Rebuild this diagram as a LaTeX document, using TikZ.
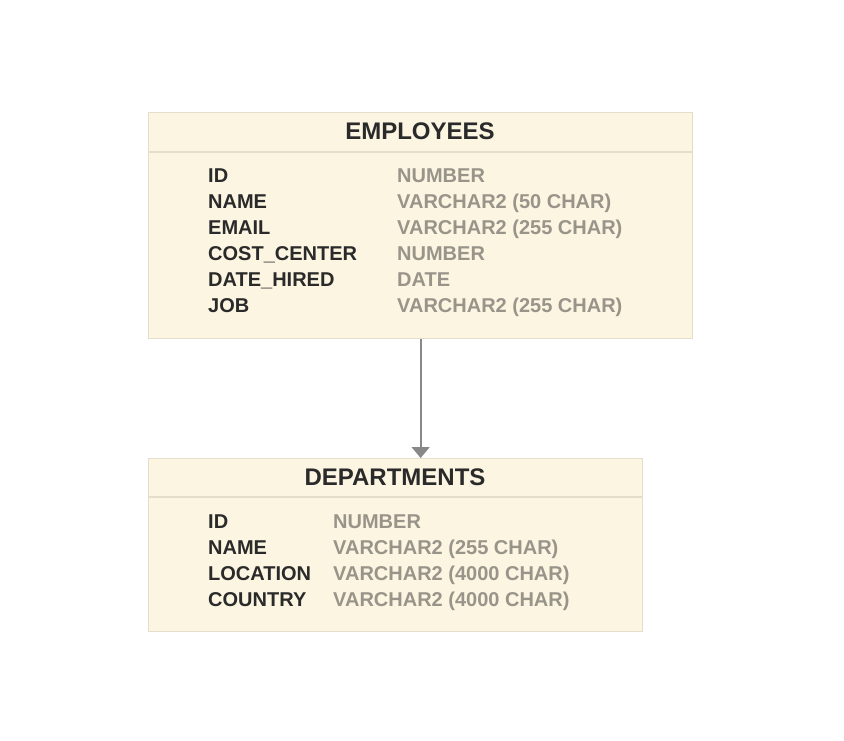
\documentclass[tikz,border=0pt]{standalone}
\usepackage{fontspec}
\setmainfont{Liberation Sans}
\usetikzlibrary{arrows.meta}
\definecolor{cream}{HTML}{FCF5E1}
\definecolor{edge}{HTML}{E4DECB}
\definecolor{namec}{HTML}{2A2A2A}
\definecolor{typec}{HTML}{98948A}
\definecolor{linec}{HTML}{888888}
\tikzset{
  tbl/.style={draw=edge, fill=cream, line width=1.3pt, inner sep=0pt, anchor=north west},
  sep/.style={draw=edge, line width=1.3pt},
  title/.style={font=\bfseries\fontsize{24}{28}\selectfont, text=namec, inner sep=0pt, text height=17.2pt, text depth=0pt},
  fname/.style={font=\bfseries\fontsize{20}{24}\selectfont, text=namec, inner sep=0pt, anchor=west, text height=14.3pt, text depth=0pt},
  ftype/.style={font=\bfseries\fontsize{20}{24}\selectfont, text=typec, inner sep=0pt, anchor=west, text height=14.3pt, text depth=0pt},
  conn/.style={draw=linec, line width=1.8pt, -{Triangle[width=18pt,length=11pt]}}
}
\begin{document}
\begin{tikzpicture}[x=1pt,y=-1pt]
\useasboundingbox (0,0) rectangle (844,740);
% EMPLOYEES
\node[tbl, minimum width=544pt, minimum height=226pt] (emp) at (148,112) {};
\draw[sep] (148,152) -- (692,152);
\node[title] (empt) at (420,131) {EMPLOYEES};
\node[fname] (e1) at (208,175) {ID};
\node[fname] (e2) at (208,201) {NAME};
\node[fname] (e3) at (208,227) {EMAIL};
\node[fname] (e4) at (208,253) {COST\_CENTER};
\node[fname] (e5) at (208,279) {DATE\_HIRED};
\node[fname] (e6) at (208,305) {JOB};
\node[ftype] (t1) at (397,175) {NUMBER};
\node[ftype] (t2) at (397,201) {VARCHAR2 (50 CHAR)};
\node[ftype] (t3) at (397,227) {VARCHAR2 (255 CHAR)};
\node[ftype] (t4) at (397,253) {NUMBER};
\node[ftype] (t5) at (397,279) {DATE};
\node[ftype] (t6) at (397,305) {VARCHAR2 (255 CHAR)};
% DEPARTMENTS
\node[tbl, minimum width=494pt, minimum height=173pt] (dep) at (148,458) {};
\draw[sep] (148,497) -- (642,497);
\node[title] (dept) at (395,477) {DEPARTMENTS};
\node[fname] (d1) at (208,521) {ID};
\node[fname] (d2) at (208,547) {NAME};
\node[fname] (d3) at (208,573) {LOCATION};
\node[fname] (d4) at (208,599) {COUNTRY};
\node[ftype] (u1) at (333,521) {NUMBER};
\node[ftype] (u2) at (333,547) {VARCHAR2 (255 CHAR)};
\node[ftype] (u3) at (333,573) {VARCHAR2 (4000 CHAR)};
\node[ftype] (u4) at (333,599) {VARCHAR2 (4000 CHAR)};
% connector
\draw[conn] (emp.south) -- (emp.south |- dep.north);
\end{tikzpicture}
\end{document}
